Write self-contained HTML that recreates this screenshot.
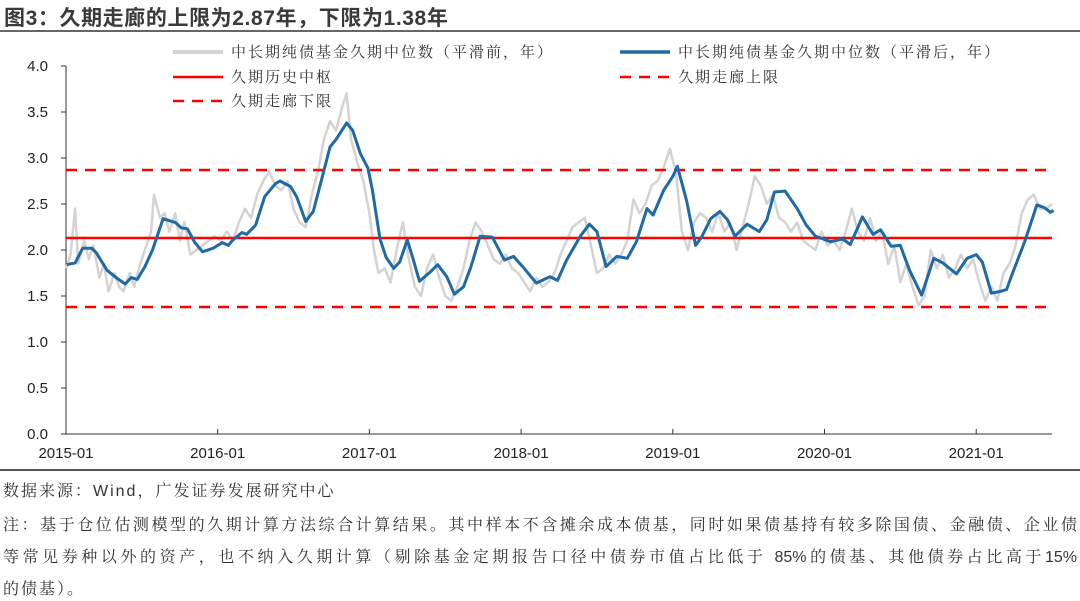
<!DOCTYPE html>
<html><head><meta charset="utf-8">
<style>
body{margin:0;background:#fff;width:1080px;height:601px;overflow:hidden;font-family:"Liberation Sans","Noto Sans CJK SC",sans-serif;}
.t{position:absolute;white-space:nowrap;}
.fn{position:absolute;left:3px;width:1074px;font-size:16px;color:#333;font-family:"Liberation Sans","Noto Serif CJK SC",serif;white-space:nowrap;}
.j{text-align:justify;text-align-last:justify;}
</style></head>
<body>
<div class="t" style="left:4px;top:2px;font-size:21px;font-weight:bold;color:#3a3a3a;letter-spacing:0.6px;">图3：久期走廊的上限为2.87年，下限为1.38年</div>
<div style="position:absolute;left:0;top:30px;width:1080px;height:2px;background:#666;"></div>
<svg id="chart" width="1080" height="470" style="position:absolute;left:0;top:0;"></svg>
<div style="position:absolute;left:0;top:469px;width:1080px;height:2px;background:#555;"></div>
<div class="fn" style="top:478px;letter-spacing:2px;">数据来源：Wind，广发证券发展研究中心</div>
<div class="fn j" style="top:512px;">注：基于仓位估测模型的久期计算方法综合计算结果。其中样本不含摊余成本债基，同时如果债基持有较多除国债、金融债、企业债</div>
<div class="fn j" style="top:544px;">等常见券种以外的资产，也不纳入久期计算（剔除基金定期报告口径中债券市值占比低于 85%的债基、其他债券占比高于15%</div>
<div class="fn" style="top:576px;letter-spacing:2px;">的债基）。</div>
<script>
const yTicks=[0,0.5,1.0,1.5,2.0,2.5,3.0,3.5,4.0];
const xTickLabels=["2015-01","2016-01","2017-01","2018-01","2019-01","2020-01","2021-01"];
const refCenter=2.13, refUpper=2.87, refLower=1.38;
const smoothT=[0.005,0.06,0.11,0.17,0.20,0.27,0.33,0.39,0.43,0.47,0.52,0.57,0.64,0.72,0.76,0.80,0.85,0.90,0.97,1.03,1.07,1.10,1.16,1.19,1.25,1.31,1.38,1.41,1.48,1.52,1.58,1.63,1.69,1.74,1.78,1.85,1.89,1.94,1.99,2.02,2.07,2.11,2.16,2.20,2.25,2.29,2.33,2.40,2.45,2.51,2.56,2.62,2.67,2.73,2.81,2.89,2.95,3.01,3.10,3.19,3.24,3.30,3.39,3.45,3.50,3.56,3.63,3.70,3.76,3.83,3.87,3.94,4.00,4.03,4.09,4.15,4.19,4.25,4.31,4.36,4.41,4.49,4.57,4.62,4.67,4.74,4.82,4.88,4.94,5.04,5.12,5.17,5.25,5.32,5.37,5.44,5.50,5.56,5.64,5.72,5.78,5.87,5.94,6.00,6.04,6.10,6.16,6.20,6.24,6.32,6.40,6.45,6.49,6.51];
const smoothV=[1.84,1.86,2.02,2.02,1.97,1.78,1.70,1.63,1.70,1.68,1.82,2.0,2.34,2.30,2.24,2.23,2.08,1.98,2.02,2.08,2.05,2.11,2.19,2.17,2.27,2.58,2.72,2.75,2.69,2.58,2.31,2.42,2.80,3.12,3.20,3.38,3.30,3.05,2.89,2.65,2.12,1.92,1.80,1.87,2.11,1.89,1.66,1.76,1.84,1.71,1.52,1.60,1.82,2.15,2.14,1.89,1.93,1.82,1.64,1.71,1.67,1.89,2.15,2.28,2.20,1.82,1.93,1.91,2.09,2.45,2.38,2.65,2.80,2.91,2.54,2.05,2.14,2.34,2.42,2.33,2.15,2.28,2.20,2.33,2.63,2.64,2.45,2.27,2.15,2.09,2.12,2.06,2.36,2.17,2.22,2.04,2.05,1.78,1.51,1.91,1.86,1.74,1.91,1.95,1.87,1.53,1.55,1.57,1.75,2.09,2.49,2.46,2.41,2.43];
const rawT=[0,0.03,0.06,0.08,0.12,0.15,0.18,0.22,0.25,0.28,0.32,0.35,0.38,0.42,0.45,0.48,0.52,0.56,0.58,0.62,0.65,0.68,0.72,0.75,0.78,0.82,0.86,0.9,0.94,0.98,1.02,1.06,1.1,1.14,1.18,1.22,1.26,1.3,1.34,1.38,1.42,1.46,1.5,1.54,1.58,1.62,1.66,1.7,1.74,1.78,1.82,1.85,1.88,1.92,1.96,2.0,2.03,2.06,2.1,2.14,2.18,2.22,2.26,2.3,2.34,2.38,2.42,2.46,2.5,2.54,2.58,2.62,2.66,2.7,2.74,2.78,2.82,2.86,2.9,2.94,2.98,3.02,3.06,3.1,3.14,3.18,3.22,3.26,3.3,3.34,3.38,3.42,3.46,3.5,3.54,3.58,3.62,3.66,3.7,3.74,3.78,3.82,3.86,3.9,3.94,3.98,4.02,4.06,4.1,4.14,4.18,4.22,4.26,4.3,4.34,4.38,4.42,4.46,4.5,4.54,4.58,4.62,4.66,4.7,4.74,4.78,4.82,4.86,4.9,4.94,4.98,5.02,5.06,5.1,5.14,5.18,5.22,5.26,5.3,5.34,5.38,5.42,5.46,5.5,5.54,5.58,5.62,5.66,5.7,5.74,5.78,5.82,5.86,5.9,5.94,5.98,6.02,6.06,6.1,6.14,6.18,6.22,6.26,6.3,6.34,6.38,6.42,6.46,6.5];
const rawV=[1.80,1.95,2.45,1.85,2.1,1.9,2.05,1.7,1.85,1.55,1.75,1.6,1.55,1.75,1.6,1.8,2.0,2.2,2.6,2.35,2.4,2.2,2.4,2.1,2.3,1.95,2.0,2.05,2.1,2.15,2.1,2.2,2.1,2.3,2.45,2.35,2.6,2.75,2.85,2.7,2.65,2.75,2.45,2.3,2.25,2.6,2.85,3.2,3.4,3.3,3.55,3.7,3.2,2.95,2.75,2.4,2.0,1.75,1.8,1.65,2.0,2.3,1.9,1.6,1.5,1.8,1.95,1.7,1.5,1.45,1.6,1.8,2.1,2.3,2.2,2.05,1.9,1.85,1.95,1.8,1.75,1.65,1.55,1.7,1.6,1.65,1.75,1.95,2.1,2.25,2.3,2.35,2.05,1.75,1.8,1.95,1.85,1.95,2.1,2.55,2.4,2.5,2.7,2.75,2.9,3.1,2.85,2.2,2.0,2.3,2.4,2.35,2.2,2.4,2.2,2.3,2.0,2.25,2.5,2.8,2.7,2.5,2.6,2.35,2.3,2.2,2.3,2.1,2.05,2.0,2.2,2.05,2.1,2.0,2.2,2.45,2.2,2.1,2.35,2.1,2.2,1.85,2.05,1.65,1.85,1.6,1.4,1.5,2.0,1.8,1.95,1.7,1.8,1.95,1.8,1.9,1.65,1.45,1.6,1.45,1.75,1.85,2.05,2.4,2.55,2.6,2.45,2.45,2.5];

const svg=document.getElementById('chart');
const NS='http://www.w3.org/2000/svg';
const X0=66,X1=1052,Y0=434,PXU=92,PXY=151.7;
const xs=t=>X0+t*PXY;
const ys=v=>Y0-v*PXU;
function mk(tag,attrs,parent){const e=document.createElementNS(NS,tag);for(const k in attrs)e.setAttribute(k,attrs[k]);(parent||svg).appendChild(e);return e;}

let ax=mk('line',{x1:X0,y1:ys(4),x2:X0,y2:Y0,stroke:'#333','stroke-width':1});


let bx=mk('line',{x1:X0,y1:Y0,x2:X1,y2:Y0,stroke:'#333','stroke-width':1});


yTicks.forEach(v=>{
  mk('line',{x1:X0-5,y1:ys(v),x2:X0,y2:ys(v),stroke:'#333'});
  const tx=mk('text',{x:48,y:ys(v)+5,'text-anchor':'end','font-size':15,fill:'#222','font-family':'Liberation Sans, sans-serif'});
  tx.textContent=v.toFixed(1);
  
  
});
xTickLabels.forEach((lab,i)=>{
  mk('line',{x1:xs(i),y1:Y0,x2:xs(i),y2:Y0-5,stroke:'#333'});
  const tx=mk('text',{x:xs(i),y:458,'text-anchor':'middle','font-size':15,fill:'#222','font-family':'Liberation Sans, sans-serif'});
  tx.textContent=lab;
  
  
});

function poly(T,V){return T.map((t,i)=>xs(t).toFixed(1)+','+ys(V[i]).toFixed(1)).join(' ');}
const raw=mk('polyline',{points:poly(rawT,rawV),fill:'none',stroke:'#d3d3d3','stroke-width':2.5,'stroke-linejoin':'round'});



function hline(v,dash,name){
  const l=mk('line',{x1:X0,y1:ys(v),x2:X1,y2:ys(v),stroke:'#f00','stroke-width':2.5});
  if(dash)l.setAttribute('stroke-dasharray','11,8');
  
  
}
hline(refCenter,false,'historical-center-line');
hline(refUpper,true,'corridor-upper-line');
hline(refLower,true,'corridor-lower-line');

const sm=mk('polyline',{points:poly(smoothT,smoothV),fill:'none',stroke:'#1f6aa5','stroke-width':3,'stroke-linejoin':'round'});



function leg(x,y,color,dash,w,label,name){
  const g=mk('g',{});
  
  
  const l=mk('line',{x1:x,y1:y,x2:x+50,y2:y,stroke:color,'stroke-width':w},g);
  if(dash)l.setAttribute('stroke-dasharray','11,8');
  const t=mk('text',{x:x+58,y:y+5,'font-size':15,fill:'#333','letter-spacing':'2px'},g);
  t.style.fontFamily='"Liberation Sans","Noto Serif CJK SC",serif';
  t.textContent=label;
}
leg(173,52,'#d3d3d3',false,4,'中长期纯债基金久期中位数（平滑前，年）','legend-raw');
leg(620,52,'#1f6aa5',false,3.5,'中长期纯债基金久期中位数（平滑后，年）','legend-smoothed');
leg(173,77,'#f00',false,2.5,'久期历史中枢','legend-center');
leg(620,77,'#f00',true,2.5,'久期走廊上限','legend-upper');
leg(173,101,'#f00',true,2.5,'久期走廊下限','legend-lower');
</script>
</body></html>
